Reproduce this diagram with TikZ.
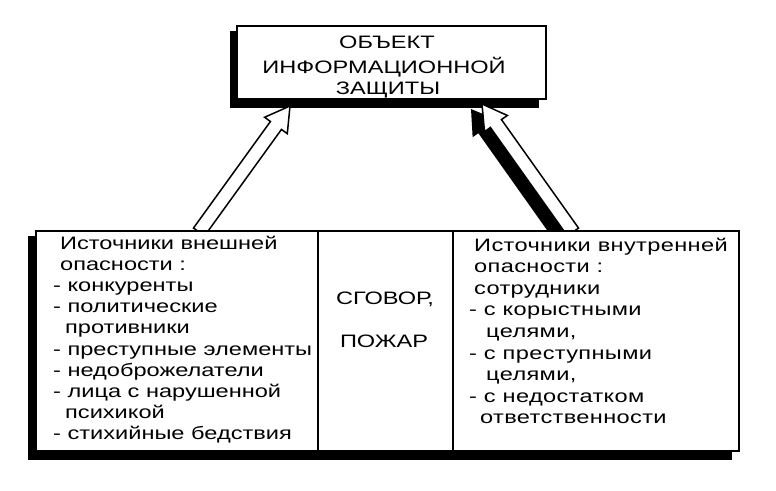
\documentclass[tikz,border=0pt]{standalone}
\usepackage{fontspec}
\setmainfont{Liberation Sans}[FakeStretch=1.31]
\usetikzlibrary{calc}
\newcommand\blockarrowdraw[6]{%
  \coordinate (bac) at ($(#3)!#6!(#2)$);
  \draw[#1] ($(#2)!#4!90:(#3)$) -- ($(bac)!#4!90:(#3)$) -- ($(bac)!#5!90:(#3)$) -- (#3)
    -- ($(bac)!#5!-90:(#3)$) -- ($(bac)!#4!-90:(#3)$) -- ($(#2)!#4!-90:(#3)$) -- cycle;}
\tikzset{
  boxline/.style={draw=black, line width=1.6pt, fill=white},
  shadowfill/.style={fill=black, draw=none},
  arrowline/.style={draw=black, line width=1.5pt, fill=white, line join=miter},
  ln/.style={inner sep=0pt, font=\fontsize{18}{20}\selectfont, anchor=base west},
  lnr/.style={ln, font=\fontsize{18}{20}\selectfont\addfontfeatures{LetterSpace=2}},
  ctr/.style={inner sep=0pt, font=\fontsize{18}{20}\selectfont, anchor=base},
}
\begin{document}
\begin{tikzpicture}[x=1pt,y=-1pt]
\useasboundingbox (0,0) rectangle (776,490);
% shadows of boxes
\fill[black] (230,31) rectangle (539,108);
\fill[black] (28,236) rectangle (732,460);
% arrows
\coordinate (la0) at (199,232);
\coordinate (la1) at (290,106);
\coordinate (ra0) at (573,232);
\coordinate (ra1) at (482,104);
\coordinate (ra0s) at (561,236);
\coordinate (ra1s) at (471,109);
\blockarrowdraw{shadowfill}{ra0s}{ra1s}{8pt}{15pt}{24pt}
\blockarrowdraw{arrowline}{ra0}{ra1}{6.8pt}{14pt}{24pt}
\blockarrowdraw{arrowline}{la0}{la1}{6.8pt}{14pt}{24pt}
% boxes
\node[boxline, minimum width=309pt, minimum height=73pt, anchor=north west, inner sep=0pt] (obj) at (236,25) {};
\node[boxline, minimum width=703pt, minimum height=220pt, anchor=north west, inner sep=0pt] (src) at (35,230) {};
\coordinate (d1t) at (318,230);
\coordinate (d1b) at (318,450);
\coordinate (d2t) at (453,230);
\coordinate (d2b) at (453,450);
\draw[line width=1.6pt] (d1t) -- (d1b);
\draw[line width=1.6pt] (d2t) -- (d2b);
% title
\node[ctr] (o1) at (387,48.5) {ОБЪЕКТ};
\node[ctr] (o2) at (384,73) {ИНФОРМАЦИОННОЙ};
\node[ctr] (o3) at (388,94) {ЗАЩИТЫ};
% external sources
\node[ln] (e1) at (60,249) {Источники внешней};
\node[ln] (e2) at (60,270.2) {опасности :};
\node[ln] (e3) at (53,291.4) {- конкуренты};
\node[ln] (e4) at (53,312.6) {- политические};
\node[ln] (e5) at (65,333.8) {противники};
\node[ln] (e6) at (53,355) {- преступные элементы};
\node[ln] (e7) at (53,376.2) {- недоброжелатели};
\node[ln] (e8) at (53,397.4) {- лица с нарушенной};
\node[ln] (e9) at (65,418.6) {психикой};
\node[ln] (e10) at (53,439.8) {- стихийные бедствия};
% middle
\node[ctr] (sgovor) at (385,304.5) {СГОВОР,};
\node[ctr] (pozhar) at (384,347.5) {ПОЖАР};
% internal sources
\node[lnr] (i1) at (474,251) {Источники внутренней};
\node[lnr] (i2) at (474,272.6) {опасности :};
\node[lnr] (i3) at (474,294.2) {сотрудники};
\node[lnr] (i4) at (469,315.8) {- с корыстными};
\node[lnr] (i5) at (486,337.4) {целями,};
\node[lnr] (i6) at (469,359) {- с преступными};
\node[lnr] (i7) at (486,380.6) {целями,};
\node[lnr] (i8) at (469,402.2) {- с недостатком};
\node[lnr] (i9) at (480,423.8) {ответственности};
\end{tikzpicture}
\end{document}
